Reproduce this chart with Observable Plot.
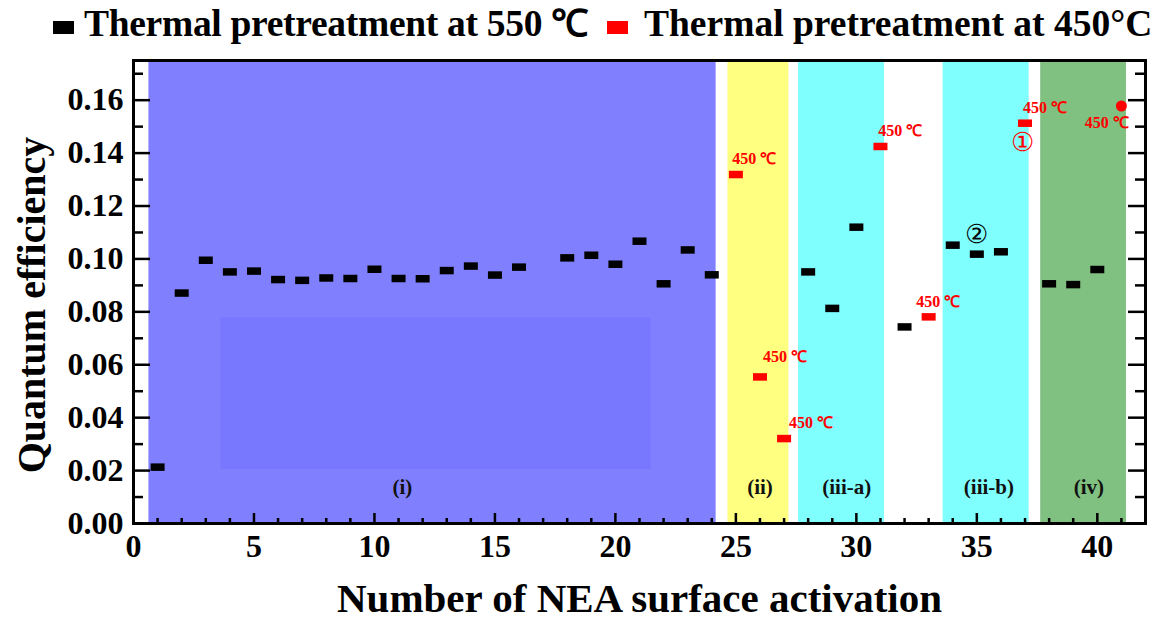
<!DOCTYPE html>
<html>
<head>
<meta charset="utf-8">
<script src="https://cdn.jsdelivr.net/npm/d3@7"></script>
<script src="https://cdn.jsdelivr.net/npm/@observablehq/plot@0.6"></script>
<style>
  body { margin: 0; background: #fff; }
  #legend { position: relative; width: 1158px; height: 50px; font-family: 'Liberation Serif', 'Times New Roman', serif; font-weight: bold; font-size: 37.5px; line-height: 1; }
  #legend .sq { position: absolute; top: 21px; width: 21px; height: 13px; }
  #legend .tx { position: absolute; top: 5px; white-space: nowrap; }
  #chart svg { display: block; }
</style>
</head>
<body>
<div id="legend"></div>
<div id="chart"></div>
<script>
// ---------- data ----------
const series550X = [1,2,3,4,5,6,7,8,9,10,11,12,13,14,15,16,18,19,20,21,22,23,24,28,29,30,32,34,35,36,38,39,40];
const series550Y = [0.0213,0.0871,0.0995,0.0951,0.0954,0.0922,0.0919,0.0928,0.0926,0.0961,0.0926,0.0925,0.0956,0.0973,0.0939,0.0969,0.1004,0.1014,0.0980,0.1067,0.0906,0.1034,0.0940,0.0951,0.0813,0.1120,0.0743,0.1052,0.1018,0.1027,0.0906,0.0903,0.0960];
const series450X = [25,26,27,31,33,37];
const series450Y = [0.1319,0.0554,0.0321,0.1425,0.0781,0.1513];
const circle450X = [41];
const circle450Y = [0.1578];

const legendNames = ["Thermal pretreatment at 550 ℃", "Thermal pretreatment at 450°C"];
const legendColors = ["#000000", "#ff0000"];

const bandNames  = ["(i)", "(ii)", "(iii-a)", "(iii-b)", "(iv)"];
const bandStart  = [0.64, 24.67, 27.6, 33.6, 37.65];
const bandEnd    = [24.18, 27.2, 31.17, 37.17, 41.21];
const bandColors = ["#8080ff", "#ffff80", "#80ffff", "#80ffff", "#80c080"];
const bandLabelX = [11.16, 26.0, 29.6, 35.5, 39.65];
const bandLabelY = 0.0138;

const innerBoxX = [3.63, 21.48];
const innerBoxY = [0.0204, 0.0777];

const noteText = "450 ℃";
const noteX = [24.85, 26.13, 27.2, 30.91, 32.49, 36.92, 39.48];
const noteY = [0.138, 0.063, 0.0381, 0.1483, 0.0838, 0.1572, 0.1514];

const markText  = ["①", "②"];
const markX     = [36.89, 34.98];
const markY     = [0.1439, 0.1090];
const markColor = ["#ff0000", "#000000"];

const xMajor = [0,5,10,15,20,25,30,35,40];
const xMinor = d3.range(1, 42).filter(d => d % 5 !== 0);
const yMajor = [0,0.02,0.04,0.06,0.08,0.10,0.12,0.14,0.16];
const yMinor = [0.01,0.03,0.05,0.07,0.09,0.11,0.13,0.15,0.17];

const xTitle = "Number of NEA surface activation";
const yTitle = "Quantum efficiency";

// ---------- legend ----------
const FONT = "'Liberation Serif', 'Times New Roman', serif";
const legend = document.getElementById("legend");
const legendSquareLeft = [53, 607];
const legendTextLeft = [84, 644];
const legendSpacing = ["-0.3px", "0px"];
legendNames.forEach((name, i) => {
  const sq = document.createElement("div");
  sq.className = "sq";
  sq.style.left = legendSquareLeft[i] + "px";
  sq.style.background = legendColors[i];
  legend.appendChild(sq);
  const tx = document.createElement("div");
  tx.className = "tx";
  tx.style.left = legendTextLeft[i] + "px";
  tx.style.letterSpacing = legendSpacing[i];
  tx.textContent = name;
  legend.appendChild(tx);
});

// ---------- tables ----------
const pts550 = series550X.map((x, i) => ({x, y: series550Y[i]}));
const pts450 = series450X.map((x, i) => ({x, y: series450Y[i]}));
const circ450 = circle450X.map((x, i) => ({x, y: circle450Y[i]}));
const bands = bandNames.map((n, i) => ({n, s: bandStart[i], e: bandEnd[i], c: bandColors[i], lx: bandLabelX[i]}));
const notes = noteX.map((x, i) => ({x, y: noteY[i]}));
const marks = markText.map((t, i) => ({t, x: markX[i], y: markY[i], c: markColor[i]}));

const rectSymbol = { draw(ctx) { ctx.rect(-7, -3.75, 14, 7.5); } };

const W = 1158, H = 572, mL = 133, mR = 13, mT = 10, mB = 99;
const pw = W - mL - mR, ph = H - mT - mB;

const chart = Plot.plot({
  width: W, height: H,
  marginLeft: mL, marginRight: mR, marginTop: mT, marginBottom: mB,
  x: {domain: [0, 42]},
  y: {domain: [0, 0.175]},
  style: {fontFamily: FONT, background: "white", overflow: "visible"},
  marks: [
    Plot.rect(bands, {x1: "s", x2: "e", fill: "c"}),
    Plot.rect([{}], {x1: () => innerBoxX[0], x2: () => innerBoxX[1], y1: () => innerBoxY[0], y2: () => innerBoxY[1], fill: "#7878ff"}),
    // inward ticks
    Plot.tickX(xMajor.filter(d => d > 0), {x: d => d, insetTop: ph - 10, stroke: "black", strokeWidth: 2.5}),
    Plot.tickX(xMinor, {x: d => d, insetTop: ph - 5, stroke: "black", strokeWidth: 2.5}),
    Plot.tickY(yMajor.filter(d => d > 0), {y: d => d, insetRight: pw - 17, stroke: "black", strokeWidth: 2.5}),
    Plot.tickY(yMinor, {y: d => d, insetRight: pw - 10, stroke: "black", strokeWidth: 2.5}),
    Plot.tickY(yMajor.filter(d => d > 0), {y: d => d, insetLeft: pw - 17, stroke: "black", strokeWidth: 2.5}),
    Plot.tickY(yMinor, {y: d => d, insetLeft: pw - 10, stroke: "black", strokeWidth: 2.5}),
    Plot.axisX({ticks: xMajor, tickSize: 0, tickPadding: 11, tickFormat: d => d, label: null, fontSize: 32, fontWeight: "bold", fill: "black"}),
    Plot.axisY({ticks: yMajor, tickSize: 0, tickPadding: 10, tickFormat: d3.format(".2f"), label: null, fontSize: 32, fontWeight: "bold", fill: "black"}),
    // data
    Plot.dot(pts550, {x: "x", y: "y", symbol: rectSymbol, fill: "black", r: 4}),
    Plot.dot(pts450, {x: "x", y: "y", symbol: rectSymbol, fill: "#ff0000", r: 4}),
    Plot.dot(circ450, {x: "x", y: "y", fill: "#ff0000", r: 5.5}),
    // annotations
    Plot.text(notes, {x: "x", y: "y", text: () => noteText, textAnchor: "start", fill: "#ff0000", fontSize: 16, fontWeight: "bold"}),
    Plot.text(marks, {x: "x", y: "y", text: "t", fill: "c", fontSize: 26}),
    Plot.text(bands, {x: "lx", y: () => bandLabelY, text: "n", fill: "#111", fontSize: 21, fontWeight: "bold"}),
    // titles
    Plot.text([xTitle], {text: d => d, frameAnchor: "bottom", lineAnchor: "middle", textAnchor: "middle", dy: 75, fontSize: 41, fontWeight: "bold", fill: "black"}),
    Plot.text([yTitle], {text: d => d, frameAnchor: "left", textAnchor: "middle", lineAnchor: "middle", rotate: -90, dx: -101, dy: 13, fontSize: 40, fontWeight: "bold", fill: "black"}),
    Plot.frame({stroke: "black", strokeWidth: 3})
  ]
});
document.getElementById("chart").appendChild(chart);
</script>
</body>
</html>
